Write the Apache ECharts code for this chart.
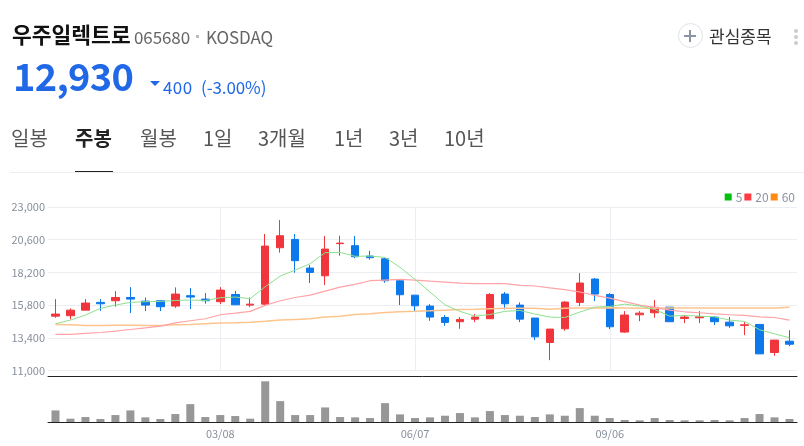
<!DOCTYPE html>
<html>
<head>
<meta charset="utf-8">
<title>우주일렉트로</title>
<script src="https://cdn.jsdelivr.net/npm/echarts@6/dist/echarts.min.js"></script>
<style>
html, body { margin: 0; padding: 0; background: #fff; overflow: hidden; }
body { font-family: "Noto Sans CJK KR", "Noto Sans", sans-serif; }
#chart { position: absolute; left: 0; top: 0; width: 804px; height: 446px; }
.t { position: absolute; white-space: nowrap; line-height: 1; }
.tab { top: 128px; font-size: 20px; color: #555; }
.dot { left: 794px; width: 4px; height: 4px; background: #c8cdd2; border-radius: 50%; }
</style>
</head>
<body>
<div id="chart"></div>

<div class="t" style="left:12px;top:23px;font-size:21.5px;font-weight:700;color:#111">우주일렉트로</div>
<div class="t" style="left:134px;top:28px;font-size:17px;letter-spacing:-0.1px;color:#666">065680</div>
<div class="t" style="left:196px;top:35px;width:3px;height:3px;background:#bbb"></div>
<div class="t" style="left:206px;top:28px;font-size:17px;letter-spacing:-0.1px;color:#666">KOSDAQ</div>
<div class="t" style="left:13px;top:56px;font-size:38px;font-weight:700;letter-spacing:-0.7px;color:#2068e6">12,930</div>
<div class="t" style="left:150px;top:81px;width:0;height:0;border-left:5px solid transparent;border-right:5px solid transparent;border-top:5px solid #2068e6"></div>
<div class="t" style="left:163px;top:78px;font-size:17px;letter-spacing:0.4px;color:#2068e6">400</div>
<div class="t" style="left:201px;top:78px;font-size:17px;letter-spacing:-0.1px;color:#2068e6">(-3.00%)</div>
<div class="t" style="left:678px;top:23px;width:23px;height:23px;border:1.5px solid #dfe2e6;border-radius:50%"></div>
<div class="t" style="left:684px;top:35px;width:12px;height:2px;background:#8b95a1"></div>
<div class="t" style="left:689px;top:30px;width:2px;height:12px;background:#8b95a1"></div>
<div class="t" style="left:709px;top:27px;font-size:17px;color:#333">관심종목</div>
<div class="t dot" style="top:29px"></div>
<div class="t dot" style="top:35px"></div>
<div class="t dot" style="top:41px"></div>

<div class="t tab" style="left:11px">일봉</div>
<div class="t tab" style="left:75px;font-weight:700;color:#222">주봉</div>
<div class="t tab" style="left:140px">월봉</div>
<div class="t tab" style="left:203px">1일</div>
<div class="t tab" style="left:258px">3개월</div>
<div class="t tab" style="left:334px">1년</div>
<div class="t tab" style="left:389px">3년</div>
<div class="t tab" style="left:444px">10년</div>
<div class="t" style="left:10px;top:172px;width:794px;height:1px;background:#eee"></div>
<div class="t" style="left:75px;top:171px;width:38px;height:1px;background:#222"></div>

<script>
var opens = [14990,15020,15430,16000,16120,16360,16090,16120,15730,16490,16240,16050,16580,15800,15870,
    20010,20620,18520,17950,20310,20160,19400,19200,17590,16530,15730,14890,14580,14770,14800,16610,15800,
    14850,13060,14060,16000,17710,16580,13820,15090,15240,15650,14820,14870,14920,14550,14310,14380,12320,13150];
var closes = [15140,15430,15950,15900,16360,16240,15800,15680,16610,16390,16120,16900,15820,15870,20130,
    20890,19060,18200,19910,20350,19350,19280,17590,16560,15750,14920,14530,14750,14920,16580,15900,14770,
    13470,14040,16020,17420,16610,14210,15070,15210,15630,14580,14920,14940,14580,14280,14350,12220,13230,12930];
var lows = [14870,14750,15430,15380,15680,15210,15360,15360,15600,15510,15900,15870,15820,15650,15730,
    19650,18180,17420,17270,19420,19250,19130,17440,15800,15360,14650,14280,14060,14550,14800,15480,14550,
    13230,11760,13910,15730,16090,14040,13770,14620,14870,14580,14480,14480,14330,14130,13600,12220,12080,12790];
var highs = [16240,15560,16240,16240,16830,17120,16360,16120,17100,17050,16680,17120,16850,16360,21020,
    22040,21020,18740,20870,20890,20870,19790,19250,17640,16530,15870,15070,14920,15140,16680,16760,16000,
    14850,14040,16090,18150,17780,16680,15360,15360,16170,15650,15070,15360,14990,14920,14550,14380,13230,13960];

var ma5 = [14430,14700,15070,15560,15800,16000,16050,16070,16140,16170,16140,16340,16390,16270,17150,
    17930,18370,18840,19650,19670,19380,19400,19300,18570,17690,16760,15820,15340,14990,15110,15340,15410,
    15140,14920,14890,15290,15650,15700,15870,15730,15480,14990,15040,14990,14940,14700,14600,13990,13690,13400];
var ma20 = [13650,13650,13720,13790,13890,14010,14130,14260,14500,14650,14800,15090,15210,15340,15780,
    16120,16360,16530,16830,17120,17320,17590,17640,17690,17640,17560,17490,17420,17370,17370,17370,17250,
    17200,17070,16930,16760,16510,16310,16050,15800,15630,15430,15310,15240,15160,15090,15040,14940,14890,14700];
var ma60 = [14380,14360,14310,14310,14330,14330,14310,14310,14360,14380,14430,14480,14500,14550,14620,
    14700,14750,14800,14920,14990,15110,15160,15260,15310,15340,15380,15430,15480,15500,15530,15560,15560,
    15560,15500,15560,15580,15580,15600,15580,15560,15560,15580,15580,15580,15580,15580,15580,15580,15580,15650];
var volumes = [350000,100000,150000,90000,210000,350000,140000,90000,240000,540000,150000,210000,180000,100000,1230000,
    630000,210000,210000,440000,150000,140000,120000,570000,230000,120000,140000,190000,270000,140000,330000,210000,190000,
    150000,230000,190000,420000,190000,120000,60000,50000,120000,60000,50000,50000,60000,50000,120000,240000,140000,90000];

var priceTicks = [11000,13400,15800,18200,20600,23000];
var dateLabels = {11: '03/08', 24: '06/07', 37: '09/06'};

var weeks = opens.map(function(v, i) { return String(i); });
function hasDate(i) { return dateLabels[i] !== undefined; }

var chart = echarts.init(document.getElementById('chart'));
var gridColor = '#eceef1';
var labelColor = '#878f9c';

var option = {
    animation: false,
    textStyle: { fontFamily: '"Noto Sans CJK KR", "Noto Sans", sans-serif' },
    legend: {
        data: ['5', '20', '60'],
        right: 4,
        top: 186,
        icon: 'rect',
        itemWidth: 7,
        itemHeight: 7,
        itemGap: 2,
        selectedMode: false,
        textStyle: { color: '#8b93a0', fontSize: 12, padding: [0, 0, 0, -1] }
    },
    grid: [
        { left: 48, width: 749, top: 207, height: 163.5 },
        { left: 48, width: 749, top: 376, height: 46 }
    ],
    xAxis: [
        {
            type: 'category', gridIndex: 0, data: weeks,
            axisLine: { show: false }, axisTick: { show: false }, axisLabel: { show: false },
            splitLine: {
                show: true, alignWithLabel: true,
                interval: function(i) { return hasDate(i); },
                lineStyle: { color: gridColor }
            }
        },
        {
            type: 'category', gridIndex: 1, data: weeks,
            axisLine: { lineStyle: { color: '#222' } },
            axisTick: {
                alignWithLabel: true, length: 3,
                interval: function(i) { return hasDate(i); },
                lineStyle: { color: '#555' }
            },
            axisLabel: {
                interval: function(i) { return hasDate(i); },
                formatter: function(v) { return dateLabels[v]; },
                color: labelColor, fontSize: 11, margin: 6
            }
        },
        {
            type: 'category', gridIndex: 1, data: weeks, position: 'top',
            axisLine: { lineStyle: { color: '#222' } },
            axisTick: { show: false }, axisLabel: { show: false }
        }
    ],
    yAxis: [
        {
            type: 'value', gridIndex: 0, min: 11000, max: 23000,
            axisLine: { show: false },
            axisTick: { show: false, customValues: priceTicks },
            axisLabel: {
                customValues: priceTicks,
                color: labelColor, fontSize: 11, margin: 3, padding: [0, 0, 3, 0],
                formatter: function(v) { return v.toLocaleString('en-US'); }
            },
            splitLine: { lineStyle: { color: gridColor } }
        },
        {
            type: 'value', gridIndex: 1, min: 0, max: 1390000,
            axisLine: { show: false }, axisTick: { show: false },
            axisLabel: { show: false }, splitLine: { show: false }
        }
    ],
    series: [
        {
            name: '60', type: 'line', data: ma60, showSymbol: false,
            itemStyle: { color: '#ff8a14' },
            lineStyle: { color: '#ffc48e', width: 1.5 }
        },
        {
            name: '20', type: 'line', data: ma20, showSymbol: false,
            itemStyle: { color: '#ff3b42' },
            lineStyle: { color: '#ffa3a6', width: 1.2 }
        },
        {
            name: '5', type: 'line', data: ma5, showSymbol: false,
            itemStyle: { color: '#00c20d' },
            lineStyle: { color: '#8ee08e', width: 1 }
        },
        {
            name: '주봉', type: 'candlestick', barWidth: 8,
            data: opens.map(function(o, i) { return [o, closes[i], lows[i], highs[i]]; }),
            itemStyle: { color: '#f0363c', color0: '#0b78ec', borderColor: '#f0363c', borderColor0: '#0b78ec', borderWidth: 1 }
        },
        {
            name: '거래량', type: 'bar', xAxisIndex: 1, yAxisIndex: 1, data: volumes,
            barWidth: 8, itemStyle: { color: '#979797' }
        }
    ]
};
chart.setOption(option);
</script>
</body>
</html>
